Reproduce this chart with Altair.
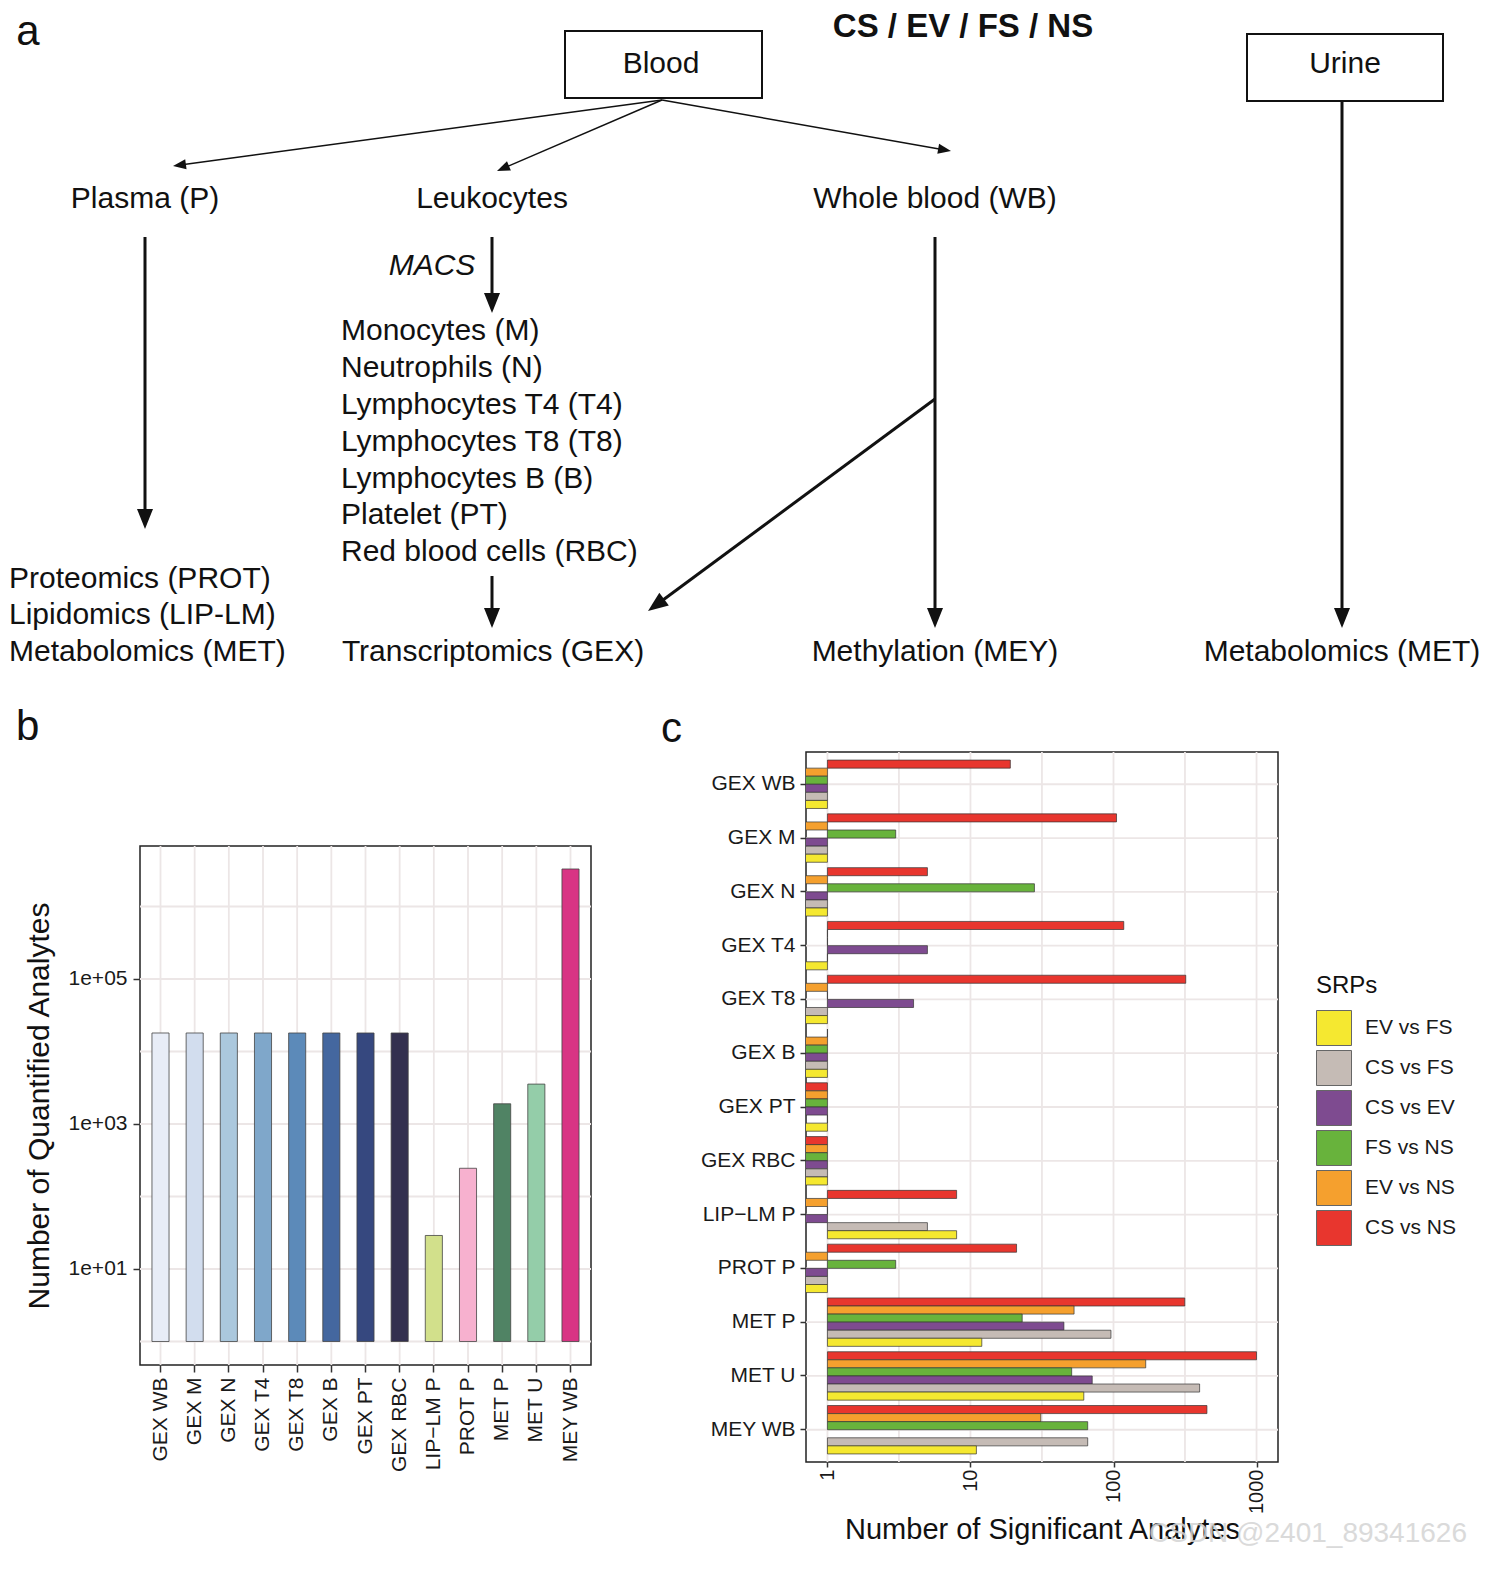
import math
import altair as alt
import pandas as pd

FONT = "Liberation Sans"
INK = "#111111"

# ---------------- panel a : flow diagram ----------------
center_labels = ["Blood", "Urine", "Plasma (P)", "Leukocytes", "Whole blood (WB)",
                 "Transcriptomics (GEX)", "Methylation (MEY)", "Metabolomics (MET)"]
center_x = [661, 1345, 145, 492, 935, 493, 935, 1342]
center_y = [63, 63, 198, 198, 198, 651, 651, 651]

left_labels = ["Monocytes (M)", "Neutrophils (N)", "Lymphocytes T4 (T4)", "Lymphocytes T8 (T8)",
               "Lymphocytes B (B)", "Platelet (PT)", "Red blood cells (RBC)",
               "Proteomics (PROT)", "Lipidomics (LIP-LM)", "Metabolomics (MET)"]
left_x = [341, 341, 341, 341, 341, 341, 341, 9, 9, 9]
left_y = [330, 367, 404, 441, 478, 514, 551, 578, 614, 651]

box_x1 = [565, 1247]
box_x2 = [762, 1443]
box_y1 = [30, 33]
box_y2 = [97, 100]

thin_x1 = [662, 662, 662]
thin_y1 = [99, 99, 99]
thin_x2 = [173, 497, 951]
thin_y2 = [165, 170, 150]

thick_x1 = [145, 492, 492, 935, 935, 1342]
thick_y1 = [236, 236, 575, 236, 398, 100]
thick_x2 = [145, 492, 492, 935, 648, 1342]
thick_y2 = [528, 312, 627, 627, 610, 627]

# view of panel a starts where panel b's plot starts; labels to the left overhang
A_LEFT, A_RIGHT, A_TOP, A_BOTTOM = 140, 1478, 8, 703


def arrows(x1, y1, x2, y2, head_len):
    rows = []
    for a, b, c, d in zip(x1, y1, x2, y2):
        dx, dy = c - a, d - b
        L = math.hypot(dx, dy)
        ux, uy = dx / L, dy / L
        ang = (math.degrees(math.atan2(dx, -dy)) + 360) % 360
        rows.append({"x": a, "y": b, "xe": c - ux * head_len * 0.7,
                     "ye": d - uy * head_len * 0.7, "tx": c, "ty": d, "ang": ang})
    return pd.DataFrame(rows)


thin_df = arrows(thin_x1, thin_y1, thin_x2, thin_y2, 13)
thick_df = arrows(thick_x1, thick_y1, thick_x2, thick_y2, 20)

xsa = alt.Scale(domain=[A_LEFT, A_RIGHT], nice=False, zero=False)
ysa = alt.Scale(domain=[A_TOP, A_BOTTOM], nice=False, zero=False, reverse=True)


def XA(f):
    return alt.X(f, type="quantitative", scale=xsa, axis=None)


def YA(f):
    return alt.Y(f, type="quantitative", scale=ysa, axis=None)


boxes = alt.Chart(pd.DataFrame({"x": box_x1, "xe": box_x2, "y": box_y1, "ye": box_y2})).mark_rect(
    fill="white", stroke=INK, strokeWidth=2
).encode(x=XA("x"), x2="xe:Q", y=YA("y"), y2="ye:Q")

thin_lines = alt.Chart(thin_df).mark_rule(color=INK, strokeWidth=1.5).encode(
    x=XA("x"), y=YA("y"), x2="xe:Q", y2="ye:Q")
thick_lines = alt.Chart(thick_df).mark_rule(color=INK, strokeWidth=3).encode(
    x=XA("x"), y=YA("y"), x2="xe:Q", y2="ye:Q")
thin_heads = alt.Chart(thin_df).mark_point(
    shape="M0,0L-5,13L5,13Z", filled=True, color=INK, opacity=1, size=4, strokeWidth=0
).encode(x=XA("tx"), y=YA("ty"), angle=alt.Angle("ang:Q", scale=None))
thick_heads = alt.Chart(thick_df).mark_point(
    shape="M0,0L-8,20L8,20Z", filled=True, color=INK, opacity=1, size=4, strokeWidth=0
).encode(x=XA("tx"), y=YA("ty"), angle=alt.Angle("ang:Q", scale=None))

center_text = alt.Chart(pd.DataFrame({"t": center_labels, "x": center_x, "y": center_y})).mark_text(
    font=FONT, fontSize=30, color=INK, align="center", baseline="middle"
).encode(x=XA("x"), y=YA("y"), text="t:N")
left_text = alt.Chart(pd.DataFrame({"t": left_labels, "x": left_x, "y": left_y})).mark_text(
    font=FONT, fontSize=30, color=INK, align="left", baseline="middle"
).encode(x=XA("x"), y=YA("y"), text="t:N")
macs = alt.Chart(pd.DataFrame({"t": ["MACS"], "x": [432], "y": [265]})).mark_text(
    font=FONT, fontSize=30, fontStyle="italic", color=INK, align="center", baseline="middle"
).encode(x=XA("x"), y=YA("y"), text="t:N")
group_title = alt.Chart(pd.DataFrame({"t": ["CS / EV / FS / NS"], "x": [963], "y": [26]})).mark_text(
    font=FONT, fontSize=33, fontWeight="bold", color=INK, align="center", baseline="middle"
).encode(x=XA("x"), y=YA("y"), text="t:N")
letter_a = alt.Chart(pd.DataFrame({"t": ["a"], "x": [28], "y": [31]})).mark_text(
    font=FONT, fontSize=42, color=INK, align="center", baseline="middle"
).encode(x=XA("x"), y=YA("y"), text="t:N")

panel_a = alt.layer(
    thin_lines, thick_lines, thin_heads, thick_heads, boxes,
    center_text, left_text, macs, group_title, letter_a
).properties(width=A_RIGHT - A_LEFT, height=A_BOTTOM - A_TOP,
             view=alt.ViewBackground(stroke="transparent"))

# ---------------- panel b : quantified analytes ----------------
b_samples = ["GEX WB", "GEX M", "GEX N", "GEX T4", "GEX T8", "GEX B", "GEX PT", "GEX RBC",
             "LIP−LM P", "PROT P", "MET P", "MET U", "MEY WB"]
b_counts = [18000, 18000, 18000, 18000, 18000, 18000, 18000, 18000,
            29, 245, 1900, 3550, 3290000]
b_colors = ["#E8EDF7", "#D2DDEE", "#ABC8DD", "#7FA7CA", "#5C8AB9", "#44679F", "#36487F",
            "#33304F", "#D2E08B", "#F7B1CF", "#508364", "#94CDA9", "#D83484"]
b_grid = [1, 10, 100, 1000, 10000, 100000, 1000000]
b_ticks = [10, 1000, 100000]

GRID = "#ECE6E6"
dfb = pd.DataFrame({"sample": b_samples, "n": b_counts})

xb = alt.X("sample:N", sort=b_samples,
           scale=alt.Scale(domain=b_samples, paddingInner=0.5, paddingOuter=0.35),
           axis=alt.Axis(title=None, labelAngle=270, labelFontSize=21, labelColor="#1a1a1a",
                         tickSize=7, tickWidth=1.5, tickColor="#333", domain=False, grid=False,
                         labelPadding=5))
ysb = alt.Scale(type="log", domain=[0.474, 6.83e6], nice=False)
axb = alt.Axis(title="Number of Quantified Analytes", values=b_ticks,
               labelExpr="'1e+0' + round(log(datum.value) / LN10)",
               labelFontSize=21, labelColor="#1a1a1a", tickSize=7, tickWidth=1.5, tickColor="#333",
               domain=False, grid=False, titleFontSize=30, titleFontWeight="normal",
               titleColor="#111", titlePadding=14, labelPadding=6)

b_hgrid = alt.Chart(pd.DataFrame({"g": b_grid})).mark_rule(color=GRID, strokeWidth=1.8).encode(
    y=alt.Y("g:Q", scale=ysb, axis=axb))
b_vgrid = alt.Chart(dfb).mark_rule(color=GRID, strokeWidth=1.8).encode(x=xb)
b_bars = alt.Chart(dfb).mark_bar(stroke="#444", strokeWidth=0.8).encode(
    x=xb,
    y=alt.Y("n:Q", scale=ysb, axis=axb),
    y2=alt.datum(1),
    color=alt.Color("sample:N", scale=alt.Scale(domain=b_samples, range=b_colors), legend=None),
)
panel_b = alt.layer(b_hgrid, b_vgrid, b_bars).properties(
    width=451, height=519,
    view=alt.ViewBackground(stroke="#222", strokeWidth=1.5, fill="white"),
)

# spacer above panel b that carries the "b" label (b's plot starts lower than c's)
b_spacer = alt.Chart(pd.DataFrame({"k": [0]})).mark_point(opacity=0).encode(
    x=alt.value(0), y=alt.value(0)
).properties(
    width=451, height=91,
    view=alt.ViewBackground(stroke="transparent"),
    title=alt.TitleParams("b", anchor="start", frame="group", fontSize=42, fontWeight="normal",
                          font=FONT, color=INK, offset=0, dx=-124),
)

# ---------------- panel c : significant analytes ----------------
c_samples = b_samples
srp_top_to_bottom = ["CS vs NS", "EV vs NS", "FS vs NS", "CS vs EV", "CS vs FS", "EV vs FS"]
srp_legend = ["EV vs FS", "CS vs FS", "CS vs EV", "FS vs NS", "EV vs NS", "CS vs NS"]
srp_colors = ["#F5E830", "#C5BBB5", "#7E4B90", "#68B33C", "#F5A02E", "#E8362E"]

cs_ns = [19, 105, 5, 118, 320, 1, 0, 0, 8, 21, 315, 1000, 450]
ev_ns = [0, 0, 0, 1, 0, 0, 0, 0, 0, 0, 53, 168, 31]
fs_ns = [0, 3, 28, 1, 1, 0, 0, 0, 1, 3, 23, 51, 66]
cs_ev = [0, 0, 0, 5, 4, 0, 0, 0, 0, 0, 45, 71, None]
cs_fs = [0, 0, 0, 1, 0, 0, 1, 0, 5, 0, 96, 400, 66]
ev_fs = [0, 0, 0, 0, 0, 0, 0, 0, 8, 0, 12, 62, 11]
c_grid = [1, 3.16, 10, 31.6, 100, 316, 1000]
c_ticks = [1, 10, 100, 1000]

series = {"CS vs NS": cs_ns, "EV vs NS": ev_ns, "FS vs NS": fs_ns,
          "CS vs EV": cs_ev, "CS vs FS": cs_fs, "EV vs FS": ev_fs}
rows = []
for srp, vals in series.items():
    for s, v in zip(c_samples, vals):
        if v is not None:
            rows.append({"sample": s, "srp": srp, "v": v})
dfc = pd.DataFrame(rows)

xsc = alt.Scale(type="log", domain=[0.708, 1413], nice=False)
axc = alt.Axis(title="Number of Significant Analytes", values=c_ticks, format="d", labelAngle=270,
               labelFontSize=20, labelColor="#1a1a1a", tickSize=5, tickWidth=1.5, tickColor="#333",
               domain=False, grid=False, titleFontSize=29, titleFontWeight="normal",
               titleColor="#111", titlePadding=2, labelPadding=2)
yc = alt.Y("sample:N", sort=c_samples,
           scale=alt.Scale(domain=c_samples, paddingInner=0.1, paddingOuter=0.15),
           axis=alt.Axis(title=None, labelFontSize=21, labelColor="#1a1a1a", tickSize=6,
                         tickWidth=1.5, tickColor="#333", domain=False, grid=False, labelPadding=5))

c_vgrid = alt.Chart(pd.DataFrame({"g": c_grid})).mark_rule(color=GRID, strokeWidth=1.8).encode(
    x=alt.X("g:Q", scale=xsc, axis=axc))
c_hgrid = alt.Chart(pd.DataFrame({"sample": c_samples})).mark_rule(
    color=GRID, strokeWidth=1.8).encode(y=yc)
c_bars = alt.Chart(dfc).transform_calculate(
    xv="datum.v == 0 ? 0.01 : datum.v"
).mark_bar(stroke="#333", strokeWidth=0.7, clip=True).encode(
    y=yc,
    yOffset=alt.YOffset("srp:N", scale=alt.Scale(domain=srp_top_to_bottom, paddingInner=0,
                                                 paddingOuter=0)),
    x=alt.X("xv:Q", scale=xsc, axis=axc),
    x2=alt.datum(1),
    color=alt.Color("srp:N", scale=alt.Scale(domain=srp_legend, range=srp_colors),
                    legend=alt.Legend(title="SRPs", orient="none", legendX=510, legendY=222,
                                      symbolType="square", symbolSize=1225,
                                      symbolStrokeColor="#666", symbolStrokeWidth=1,
                                      labelFontSize=21, labelFont=FONT, labelColor="#1a1a1a",
                                      titleFontSize=24, titleFont=FONT, titleFontWeight="normal",
                                      titleColor="#111", rowPadding=0, labelOffset=13,
                                      titlePadding=12)),
)
watermark = alt.Chart(pd.DataFrame({"t": ["CSDN @2401_89341626"]})).mark_text(
    font=FONT, fontSize=28, color="#d4d4d4", opacity=0.85, align="left", baseline="middle"
).encode(x=alt.value(343), y=alt.value(782), text="t:N")

panel_c = alt.layer(c_vgrid, c_hgrid, c_bars, watermark).properties(
    width=472, height=710,
    view=alt.ViewBackground(stroke="#222", strokeWidth=1.5, fill="white"),
    title=alt.TitleParams("c", anchor="start", frame="group", fontSize=42, fontWeight="normal",
                          font=FONT, color=INK, offset=0, dx=-145),
)

col_b = alt.vconcat(b_spacer, panel_b, spacing=0)
row = alt.hconcat(col_b, panel_c, spacing=67).resolve_scale(color="independent")
chart = alt.vconcat(panel_a, row, spacing=0).resolve_scale(color="independent").properties(
    padding=0, background="white"
).configure_axis(labelFont=FONT, titleFont=FONT).configure_legend(
    labelFont=FONT, titleFont=FONT
)

chart.save("out.html", embed_options={"renderer": "svg", "actions": False})
